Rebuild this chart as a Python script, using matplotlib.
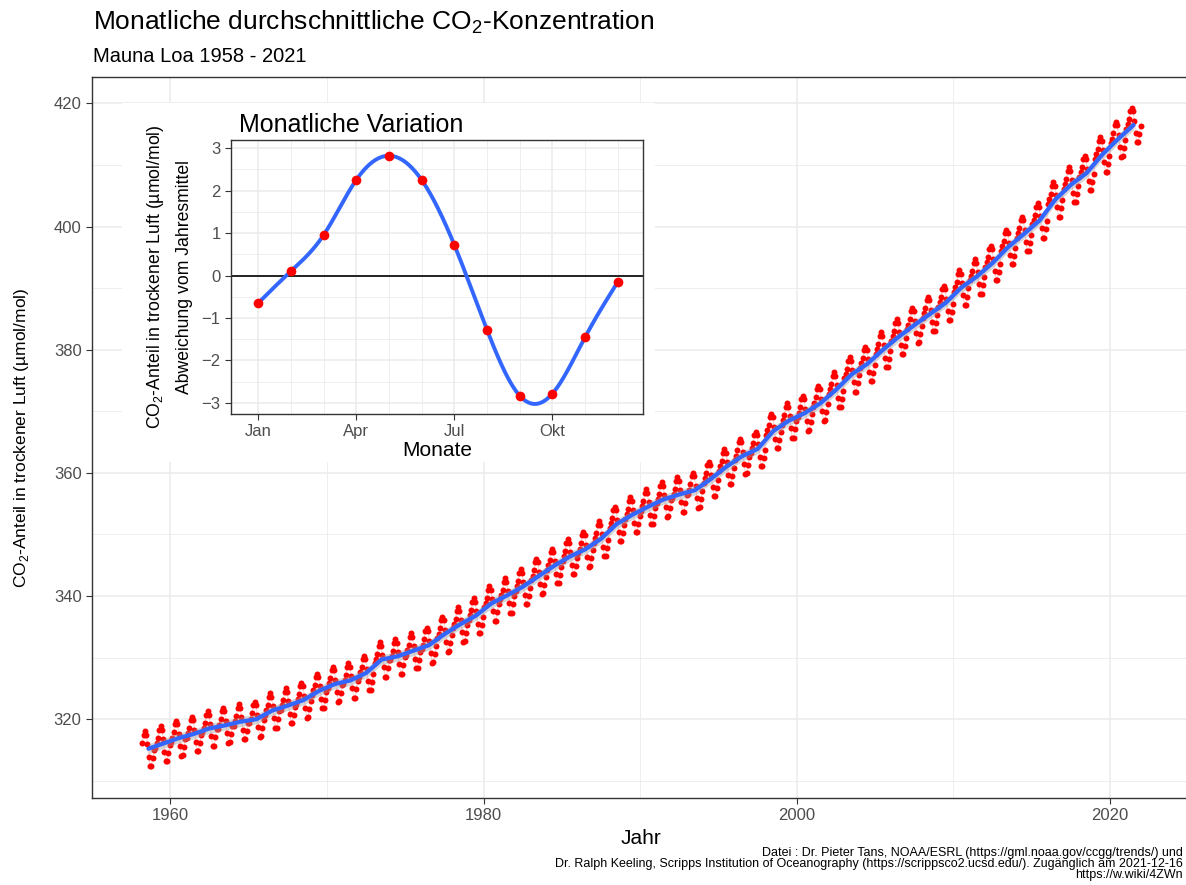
import numpy as np
import pandas as pd
import matplotlib
matplotlib.use('Agg')
import matplotlib.pyplot as plt
from matplotlib.patches import Rectangle

plt.rcParams['font.family'] = ['Liberation Sans', 'DejaVu Sans']

years = list(range(1958, 2022))
annual_mean = [315.2, 316.0, 316.9, 317.6, 318.5, 319.0, 319.6, 320.0, 321.4, 322.2,
               323.1, 324.6, 325.7, 326.3, 327.5, 329.7, 330.2, 331.1, 332.0, 333.8,
               335.4, 336.8, 338.8, 340.1, 341.5, 343.2, 344.9, 346.4, 347.6, 349.3,
               351.7, 353.2, 354.5, 355.7, 356.5, 357.2, 359.0, 361.0, 362.7, 363.9,
               366.8, 368.5, 369.7, 371.3, 373.5, 376.0, 377.7, 380.0, 382.1, 384.0,
               385.8, 387.6, 390.1, 391.9, 394.1, 396.7, 398.8, 401.0, 404.4, 406.8,
               408.7, 411.7, 414.2, 416.5]

# monthly deviation from the annual mean (inset)
months = ['Jan', 'Feb', 'Mär', 'Apr', 'Mai', 'Jun', 'Jul', 'Aug', 'Sep', 'Okt', 'Nov', 'Dez']
month_dev = [-0.65, 0.10, 0.95, 2.25, 2.82, 2.25, 0.72, -1.28, -2.83, -2.78, -1.45, -0.15]

# monthly series = annual mean + seasonal deviation (Mar 1958 - Dec 2021)
rows = []
for y, a in zip(years, annual_mean):
    for m in range(12):
        if y == 1958 and m < 2:
            continue
        rows.append((y + (m + 0.5) / 12, a + month_dev[m]))
df = pd.DataFrame(rows, columns=['t', 'co2'])

trend_t = [y + 0.5 for y in years]
trend_t[0] = 1958.6


def natural_spline(x, y, xs):
    # smooth curve through the points (natural cubic spline)
    x = np.asarray(x, float)
    y = np.asarray(y, float)
    n = len(x)
    h = np.diff(x)
    A = np.zeros((n, n))
    r = np.zeros(n)
    A[0, 0] = A[-1, -1] = 1
    for i in range(1, n - 1):
        A[i, i - 1] = h[i - 1]
        A[i, i] = 2 * (h[i - 1] + h[i])
        A[i, i + 1] = h[i]
        r[i] = 6 * ((y[i + 1] - y[i]) / h[i] - (y[i] - y[i - 1]) / h[i - 1])
    M = np.linalg.solve(A, r)
    k = np.clip(np.searchsorted(x, xs) - 1, 0, n - 2)
    t0, t1 = xs - x[k], x[k + 1] - xs
    hk = h[k]
    return (M[k] * t1 ** 3 + M[k + 1] * t0 ** 3) / (6 * hk) + \
        (y[k] / hk - M[k] * hk / 6) * t1 + (y[k + 1] / hk - M[k + 1] * hk / 6) * t0


blue = '#3366FF'
fig = plt.figure(figsize=(11.86, 8.85), dpi=100)
W, H = 1186, 885

ax = fig.add_axes([92 / W, 1 - 798 / H, (1190 - 92) / W, (798 - 77) / H], zorder=0)
ax.plot(df['t'], df['co2'], color='red', alpha=0.18, lw=0.8, zorder=2)
ax.plot(df['t'], df['co2'], 'o', color='red', ms=4.3, mew=0, zorder=3)
tr = np.array(annual_mean)
ax.fill_between(trend_t, tr - 0.8, tr + 0.8, color='#999999', alpha=0.4, lw=0, zorder=4)
ax.plot(trend_t, tr, color=blue, lw=3, zorder=5, solid_capstyle='round')

ax.set_xlim(1955.0, 2025.1)
ax.set_ylim(307.2, 424.3)
ax.set_xticks([1960, 1980, 2000, 2020])
ax.set_xticks([1970, 1990, 2010], minor=True)
ax.set_yticks([320, 340, 360, 380, 400, 420])
ax.set_yticks([310, 330, 350, 370, 390, 410], minor=True)
ax.grid(which='major', color='#ebebeb', lw=1.1)
ax.grid(which='minor', color='#ebebeb', lw=0.6)
ax.set_axisbelow(True)
for s in ax.spines.values():
    s.set_color('#333333')
    s.set_linewidth(1.0)
ax.tick_params(which='major', length=4, color='#333333', labelcolor='#4d4d4d', labelsize=12)
ax.tick_params(which='minor', length=0)
ax.set_xlabel('Jahr', fontsize=15, labelpad=4)
ax.set_ylabel(r'CO$_\mathregular{2}$-Anteil in trockener Luft (µmol/mol)', fontsize=12.5, labelpad=16)

fig.text(93 / W, 1 - 22 / H, r'Monatliche durchschnittliche CO$_\mathregular{2}$-Konzentration',
         fontsize=19, va='center', ha='left')
fig.text(93 / W, 1 - 56 / H, 'Mauna Loa 1958 - 2021', fontsize=14.5, va='center', ha='left')

caption = ('Datei : Dr. Pieter Tans, NOAA/ESRL (https://gml.noaa.gov/ccgg/trends/) und\n'
           'Dr. Ralph Keeling, Scripps Institution of Oceanography (https://scrippsco2.ucsd.edu/). '
           'Zugänglich am 2021-12-16\nhttps://w.wiki/4ZWn')
fig.text(1183 / W, 1 - 847 / H, caption, fontsize=9, ha='right', va='top', linespacing=0.9)

# white box behind the inset
fig.add_artist(Rectangle((122 / W, 1 - 462 / H), (655 - 122) / W, (462 - 103) / H,
                         transform=fig.transFigure, facecolor='white', edgecolor='none', zorder=1))

ins = fig.add_axes([231 / W, 1 - 414 / H, (643 - 231) / W, (414 - 140) / H], zorder=2)
mi = np.arange(12)
xs = np.linspace(0, 11, 400)
ins.axhline(0, color='black', lw=1.2, zorder=2)
ins.plot(xs, natural_spline(mi, month_dev, xs), color=blue, lw=2.8, zorder=3)
ins.plot(mi, month_dev, 'o', color='red', ms=7, mew=0, zorder=4)
ins.set_xlim(-0.83, 11.77)
ins.set_ylim(-3.26, 3.19)
ins.set_xticks([0, 3, 6, 9])
ins.set_xticklabels(['Jan', 'Apr', 'Jul', 'Okt'])
ins.set_xticks([1, 2, 4, 5, 7, 8, 10, 11], minor=True)
ins.set_yticks([-3, -2, -1, 0, 1, 2, 3])
ins.set_yticks([-2.5, -1.5, -0.5, 0.5, 1.5, 2.5], minor=True)
ins.grid(which='major', color='#ebebeb', lw=1.1)
ins.grid(which='minor', color='#ebebeb', lw=0.6)
ins.set_axisbelow(True)
for s in ins.spines.values():
    s.set_color('#333333')
    s.set_linewidth(1.0)
ins.tick_params(which='major', length=4, color='#333333', labelcolor='#4d4d4d', labelsize=12)
ins.tick_params(which='minor', length=0)
ins.set_xlabel('Monate', fontsize=15, labelpad=1)
ins.set_ylabel(r'CO$_\mathregular{2}$-Anteil in trockener Luft (µmol/mol)' + '\nAbweichung vom Jahresmittel',
               fontsize=12.7, labelpad=6, linespacing=1.75)
ins.set_title('Monatliche Variation', fontsize=18, loc='left', x=0.02, pad=6)

fig.savefig('out.png', dpi=100)
